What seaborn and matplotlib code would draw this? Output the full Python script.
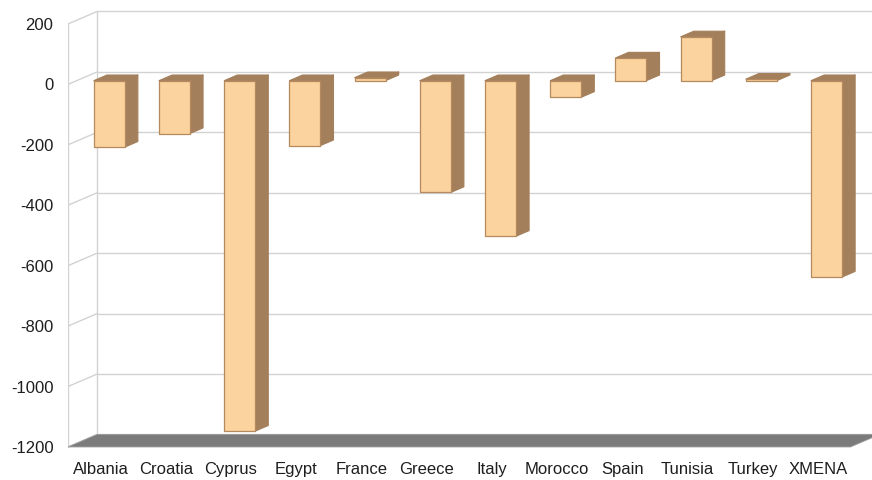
import matplotlib
matplotlib.use("Agg")
import matplotlib.pyplot as plt
import seaborn as sns
import numpy as np
from matplotlib.patches import Polygon

countries = ["Albania", "Croatia", "Cyprus", "Egypt", "France", "Greece",
             "Italy", "Morocco", "Spain", "Tunisia", "Turkey", "XMENA"]
balance = [-220, -175, -1160, -215, 10, -370, -515, -55, 75, 145, 5, -650]
yticks = [200, 0, -200, -400, -600, -800, -1000, -1200]

FRONT = "#FBD39E"
SIDE = "#A47F5B"
EDGE = "#B58A5E"
GRID = "#D2D2D2"
FLOOR = "#7B7B7B"

# oblique depth of the plot box, in data units
DX, DY = 0.445, 41.3
# bars sit inside the box between these depth fractions
B0, B1 = 0.30, 0.75

sns.set_theme(style="white")
plt.rcParams["font.family"] = ["Liberation Sans", "DejaVu Sans"]

fig = plt.figure(figsize=(8.72, 4.8), dpi=100)
ax = fig.add_axes([68 / 872, 25 / 480, (872 - 68) / 872, 455 / 480])

sns.barplot(x=countries, y=balance, ax=ax, width=0.475, color=FRONT,
            saturation=1, edgecolor=EDGE, linewidth=0.9, zorder=3)

ymin, ymax = min(yticks), max(yticks)
x_left, x_right = -0.5, len(countries) - 0.5

# back wall grid lines and left side wall
for v in yticks:
    ax.plot([x_left + DX, 20], [v + DY, v + DY], color=GRID, lw=1, zorder=0)
    ax.plot([x_left, x_left + DX], [v, v + DY], color=GRID, lw=1, zorder=0)
ax.plot([x_left, x_left], [ymin, ymax], color=GRID, lw=1, zorder=0)
ax.plot([x_left + DX, x_left + DX], [ymin + DY, ymax + DY], color=GRID, lw=1, zorder=0)

# floor
ax.add_patch(Polygon([(x_left, ymin), (x_right, ymin), (x_right + DX, ymin + DY),
                      (x_left + DX, ymin + DY)], closed=True, facecolor=FLOOR,
                     edgecolor="#9A9A9A", lw=0.6, zorder=1))

# push the bars into the box and give them side and top faces
bdx, bdy = (B1 - B0) * DX, (B1 - B0) * DY
for p in ax.patches:
    if not hasattr(p, "get_width") or p.get_facecolor()[:3] == matplotlib.colors.to_rgb(FLOOR):
        continue
    p.set_x(p.get_x() + B0 * DX)
    p.set_y(p.get_y() + B0 * DY)
    p.set_joinstyle("round")
    x0 = p.get_x()
    x1 = x0 + p.get_width()
    y_a = p.get_y()
    y_b = y_a + p.get_height()
    lo, hi = min(y_a, y_b), max(y_a, y_b)
    side = Polygon([(x1, lo), (x1, hi), (x1 + bdx, hi + bdy), (x1 + bdx, lo + bdy)],
                   closed=True, facecolor=SIDE, edgecolor=SIDE, lw=0.8,
                   joinstyle="round", zorder=2.5)
    top = Polygon([(x0, hi), (x1, hi), (x1 + bdx, hi + bdy), (x0 + bdx, hi + bdy)],
                  closed=True, facecolor=SIDE, edgecolor=SIDE, lw=0.8,
                  joinstyle="round", zorder=2.5)
    ax.add_patch(side)
    ax.add_patch(top)

ax.set_xlim(-0.5, 11.83)
ax.set_ylim(-1226.6, 279.3)
ax.set_yticks(yticks)
ax.set_yticklabels([str(v) for v in yticks])
ax.set_xticks(range(len(countries)))
ax.set_xticklabels(countries)
ax.set_xlabel("")
ax.set_ylabel("")
ax.tick_params(axis="both", length=0, labelsize=12, colors="#1E1E1E")
ax.tick_params(axis="y", pad=10.5)
ax.tick_params(axis="x", pad=5)
for s in ax.spines.values():
    s.set_visible(False)
ax.set_facecolor("white")
fig.patch.set_facecolor("white")

fig.savefig("out.png", dpi=100)
